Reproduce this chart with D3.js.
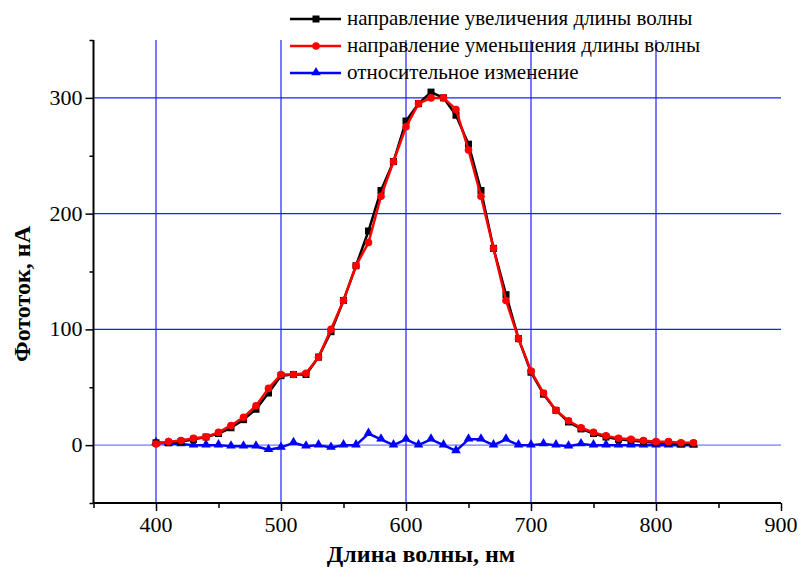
<!DOCTYPE html>
<html><head><meta charset="utf-8">
<script src="https://cdn.jsdelivr.net/npm/d3@7"></script>
<style>html,body{margin:0;padding:0;background:#fff;}svg{display:block;}</style>
</head><body>
<svg id="chart" width="801" height="578"></svg>
<script>
const wavelengths = [400,410,420,430,440,450,460,470,480,490,500,510,520,530,540,550,560,570,580,590,600,610,620,630,640,650,660,670,680,690,700,710,720,730,740,750,760,770,780,790,800,810,820,830];
const increasing = [2,2,3,5,7,10,15,22,31,45,60,61,61,76,98,125,155,185,220,245,280,295,305,300,285,260,220,170,130,92,63,44,30,20,14,10,7,5,4,3,2,2,1,1];
const decreasing = [1,3,4,6,7,11,17,24,34,49,61,61,62,76,100,125,155,175,215,245,275,295,300,300,290,255,215,170,125,92,64,45,30,21,15,11,8,6,5,4,3,3,2,2];
const relative   = [2,1.5,1,0,0,0,-1,-1,-1,-4,-2,2,-1,0,-2,0,0,10,5,0,5,0,5,0,-5,5,5,0,5,0,0,1,0,-1,1,0,0,0,0,0,0,0,0,0];
const seriesNames = ["направление увеличения длины волны","направление уменьшения длины волны","относительное изменение"];
const seriesColors = ["#000000","#ff0000","#0000ff"];
const xTickValues = [400,500,600,700,800,900];
const yTickValues = [0,100,200,300];
const xTitle = "Длина волны, нм";
const yTitle = "Фототок, нА";

const FONT = '"Liberation Serif", "Times New Roman", serif';
const svg = d3.select("#chart");
const x = d3.scaleLinear().domain([350,900]).range([93.5,781]);
const y = d3.scaleLinear().domain([-50,350]).range([503,40]);

function txt(sel){ return sel.append("text").style("font-family",FONT); }

// grid
const g = svg.append("g");
g.selectAll(".vg").data([400,500,600,700,800]).enter().append("line")
  .attr("x1",d=>x(d)).attr("x2",d=>x(d)).attr("y1",y(350)).attr("y2",y(-50))
  .attr("stroke","#1f1fff").attr("stroke-width",1.2);
g.selectAll(".hg").data(yTickValues).enter().append("line")
  .attr("x1",x(350)).attr("x2",x(900)).attr("y1",d=>y(d)).attr("y2",d=>y(d))
  .attr("stroke","#1f1fff").attr("stroke-width",1.2).attr("opacity",d=>d===0?0.6:1);

// axes
const xAxis = svg.append("g").attr("transform",`translate(0,${y(-50)})`)
  .call(d3.axisBottom(x).tickValues(d3.range(350,901,50)).tickSize(0).tickFormat(""));
xAxis.select(".domain").attr("stroke","#000").attr("stroke-width",2).attr("d",`M${x(350)},0H${x(900)}`);
xAxis.selectAll(".tick line").attr("stroke","#000").attr("stroke-width",1.5)
  .attr("y2",d=>xTickValues.includes(d)?8:5);
const xl = svg.append("g");
xTickValues.forEach(v=>{
  txt(xl).attr("x",x(v)).attr("y",y(-50)+29).attr("text-anchor","middle")
    .style("font-size","22px").text(v);
});

const yAxis = svg.append("g").attr("transform",`translate(${x(350)},0)`)
  .call(d3.axisLeft(y).tickValues(d3.range(-50,351,50)).tickSize(0).tickFormat(""));
yAxis.select(".domain").attr("stroke","#000").attr("stroke-width",2).attr("d",`M0,${y(350)}V${y(-50)}`);
yAxis.selectAll(".tick line").attr("stroke","#000").attr("stroke-width",1.5)
  .attr("x2",d=>yTickValues.includes(d)?-8:-4);
const yl = svg.append("g");
yTickValues.forEach(v=>{
  txt(yl).attr("x",x(350)-11).attr("y",y(v)+7).attr("text-anchor","end")
    .style("font-size","22px").text(v);
});

txt(svg).attr("x",421).attr("y",562).attr("text-anchor","middle")
  .style("font-size","24px").style("font-weight","bold").text(xTitle);
txt(svg).attr("transform",`translate(30,294) rotate(-90)`).attr("text-anchor","middle")
  .style("font-size","24px").style("font-weight","bold").text(yTitle);

// series
const allSeries = [increasing, decreasing, relative];
const line = d3.line().x((d,i)=>x(wavelengths[i])).y(d=>y(d));
function marker(sel, k, cx, cy){
  if(k===0){
    sel.append("rect").attr("x",cx-3.5).attr("y",cy-3.5).attr("width",7).attr("height",7).attr("fill",seriesColors[0]);
  } else if(k===1){
    sel.append("circle").attr("cx",cx).attr("cy",cy).attr("r",3.8).attr("fill",seriesColors[1]);
  } else {
    sel.append("path").attr("d",d3.symbol(d3.symbolTriangle,40)()).attr("transform",`translate(${cx},${cy-0.5})`).attr("fill",seriesColors[2]);
  }
}
[2,0,1].forEach(k=>{
  const data = allSeries[k];
  const sg = svg.append("g");
  sg.append("path").datum(data).attr("d",line).attr("fill","none")
    .attr("stroke",seriesColors[k]).attr("stroke-width",2.5).attr("stroke-linejoin","round");
  data.forEach((v,i)=>marker(sg,k,x(wavelengths[i]),y(v)));
});

// legend
const leg = svg.append("g");
seriesNames.forEach((name,k)=>{
  const ly = 19 + k*27;
  leg.append("line").attr("x1",290).attr("x2",341).attr("y1",ly).attr("y2",ly)
    .attr("stroke",seriesColors[k]).attr("stroke-width",2.5);
  marker(leg,k,316,ly);
  txt(leg).attr("x",347).attr("y",ly+6).style("font-size","21px").text(name);
});
</script>
</body></html>
